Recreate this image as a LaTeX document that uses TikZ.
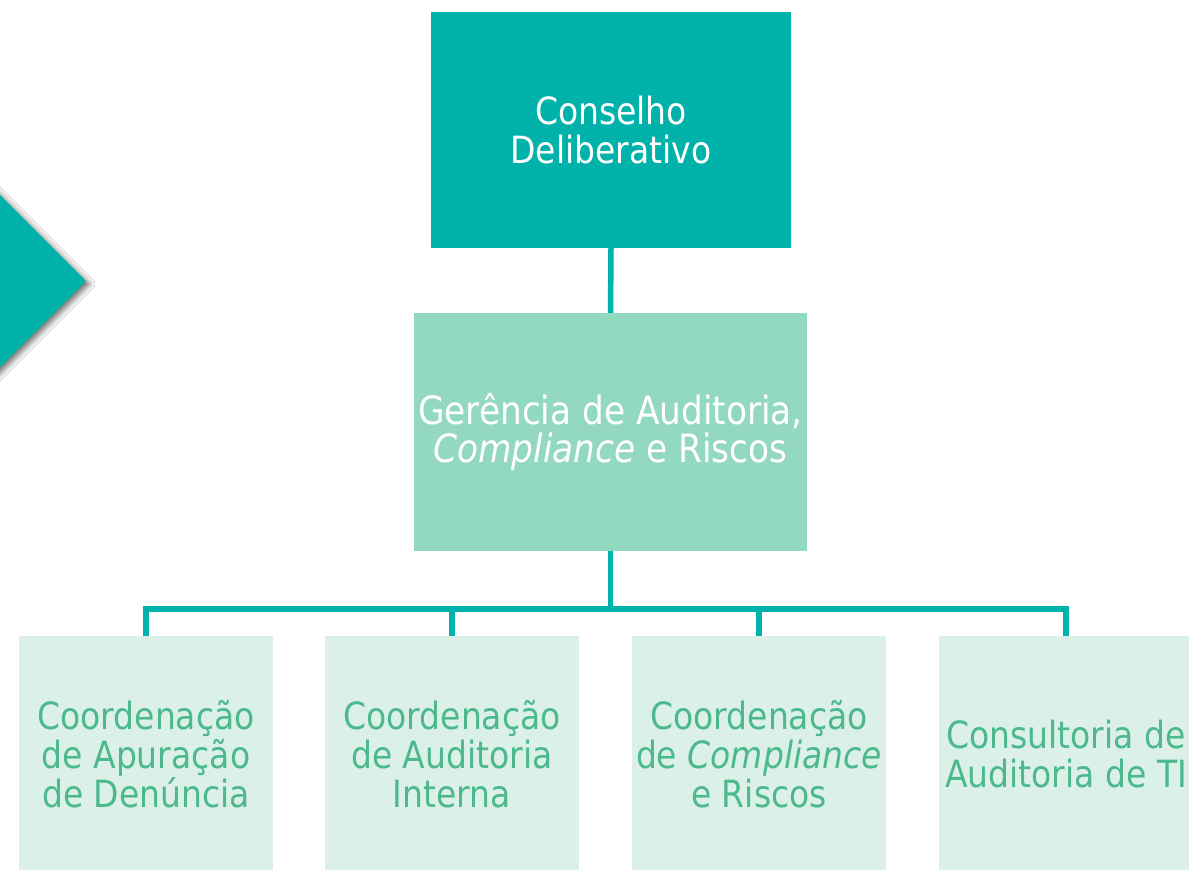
\documentclass[tikz,border=0pt]{standalone}
\usepackage{fontspec}
\setmainfont{DejaVu Sans}[FakeStretch=0.88]
\usetikzlibrary{shadows.blur}
\definecolor{teal1}{RGB}{0,178,169}
\definecolor{mint}{RGB}{147,216,192}
\definecolor{pale}{RGB}{219,240,232}
\definecolor{greentext}{RGB}{76,185,140}
\tikzset{
  box/.style={rectangle, inner sep=0pt, align=center, font=\fontsize{37.5}{39}\selectfont},
  topbox/.style={box, fill=teal1, text=white, minimum width=360pt, minimum height=236pt},
  midbox/.style={box, fill=mint, text=white, minimum width=393pt, minimum height=238pt, font=\fontsize{39}{38.5}\selectfont},
  lowbox/.style={box, fill=pale, text=greentext, minimum width=254pt, minimum height=236pt},
  conn/.style={draw=teal1, line width=5.5pt},
}
\begin{document}
\begin{tikzpicture}[x=1pt,y=-1pt]
\useasboundingbox (0,0) rectangle (1189,870);
\clip (0,0) rectangle (1189,870);
\fill[white] (0,0) rectangle (1189,870);
% chevron
\fill[teal1, blur shadow={shadow xshift=3pt, shadow yshift=-3pt, shadow blur radius=6pt, shadow opacity=60}]
  (-100,95) -- (86,281) -- (-100,467) -- cycle;
% nodes
\node[topbox] (top) at (611,130) {Conselho\\Deliberativo};
\node[midbox] (mid) at (610.5,432) {Gerência de Auditoria,\\\textit{Compliance} e Riscos};
\node[lowbox] (b1) at (146,754) {Coordenação\\de Apuração\\de Denúncia};
\node[lowbox] (b2) at (452,754) {Coordenação\\de Auditoria\\Interna};
\node[lowbox] (b3) at (759,754) {Coordenação\\de \textit{Compliance}\\e Riscos};
\node[lowbox] (b4) at (1066,754) {Consultoria de\\Auditoria de TI};
\coordinate (bus) at (611,609);
% connectors
\draw[conn] (top.south) -- (mid.north);
\draw[conn] (mid.south) -- (mid.south |- bus);
\draw[conn] (b1.north) |- (bus) -| (b4.north);
\draw[conn] (b2.north) -- (b2.north |- bus);
\draw[conn] (b3.north) -- (b3.north |- bus);
\end{tikzpicture}
\end{document}
